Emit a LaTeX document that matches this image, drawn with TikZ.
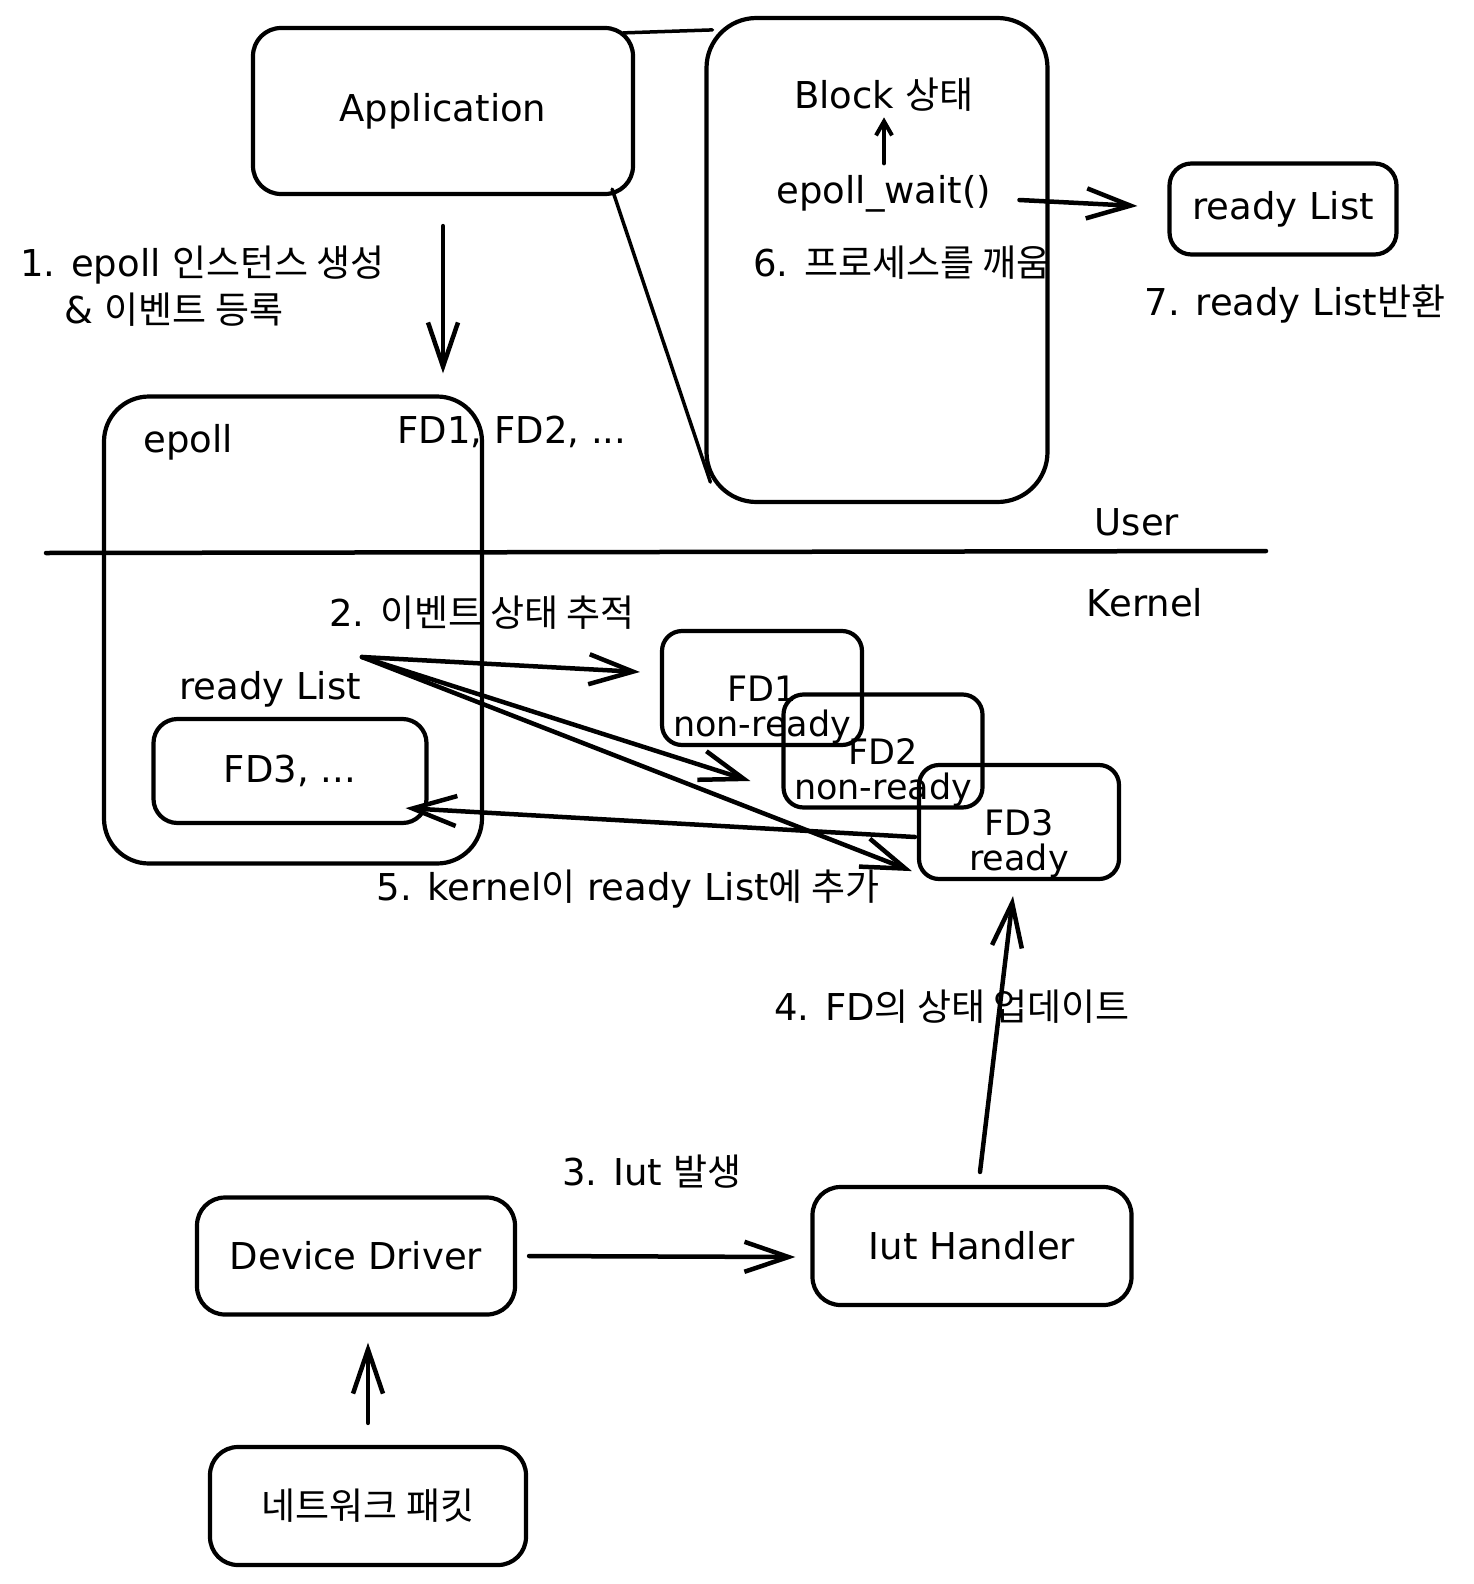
\documentclass[tikz,border=0pt]{standalone}
\usepackage{fontspec}
\setmainfont{DejaVu Sans}
\newfontfamily\krf{Noto Sans CJK KR}
\usetikzlibrary{arrows.meta,positioning,calc}

\begin{document}
\begin{tikzpicture}[
      x=1pt, y=-1pt, >={Straight Barb[length=44pt,width=30pt]},
      font=\fontsize{37}{42}\selectfont, line cap=round, line join=round,
      bx/.style={draw, line width=4.2pt, rounded corners=28pt, inner sep=0pt},
      fdb/.style={bx, rounded corners=20pt, align=center, text height=104pt,
                  font=\fontsize{35}{35}\selectfont},
      lab/.style={inner sep=0pt},
      arr/.style={->, line width=4.5pt},
    ]
    \useasboundingbox (0,0) rectangle (1473,1584);

    % user side
    \node[bx, minimum width=380pt, minimum height=166pt] (app) at (443,111) {Application};
    \node[bx, rounded corners=50pt, minimum width=341pt, minimum height=484pt] (blk) at (877,260) {};
    \node[lab] (wt) at (884,194) {epoll\_wait()};
    \node[lab, above=64pt of wt] (bst) {Block {\krf 상태}};
    \node[lab] (l6) at (902,263) {6. {\krf 프로세스를 깨움}};
    \node[bx, rounded corners=22pt, minimum width=227pt, minimum height=91pt] (rdyout) at (1283,209) {ready List};
    \node[lab, below=28pt of rdyout, xshift=12pt] (l7) {7. ready List{\krf 반환}};
    \node[lab, anchor=west, align=left, font=\fontsize{37}{47}\selectfont] (l1) at (20,286)
      {1. epoll {\krf 인스턴스 생성}\\\hspace*{44pt}\& {\krf 이벤트 등록}};

    % epoll
    \node[bx, rounded corners=45pt, minimum width=378pt, minimum height=467pt] (epl) at (293,630) {};
    \node[lab] (epllbl) at (188,442) {epoll};
    \node[lab] (fdlist) at (512,432) {FD1, FD2, ...};
    \node[bx, rounded corners=24pt, minimum width=273pt, minimum height=104pt] (rdyin) at (290,771) {FD3, ...};
    \node[lab, above=10pt of rdyin, xshift=-20pt] (rdylbl) {ready List};

    % user / kernel
    \draw[line width=4.5pt] (46,553) -- (1266,551);
    \node[lab] (usr) at (1137,522) {User};
    \node[lab] (krn) at (1145,603) {Kernel};

    % kernel side
    \node[lab] (l2) at (482,613) {2. {\krf 이벤트 상태 추적}};
    \coordinate (trk) at (362,657);
    \node[fdb, minimum width=200pt, minimum height=114pt] (fd1) at (762,688) {FD1\\non-ready};
    \node[fdb, minimum width=199pt, minimum height=113pt] (fd2) at (883,751) {FD2\\non-ready};
    \node[fdb, minimum width=200pt, minimum height=114pt] (fd3) at (1019,822) {FD3\\ready};
    \node[lab] (l5) at (628,889) {5. kernel{\krf 이} ready List{\krf 에 추가}};
    \node[lab] (l4) at (952,1007) {4. FD{\krf 의 상태 업데이트}};
    \node[lab] (l3) at (652,1172) {3. Iut {\krf 발생}};
    \node[bx, minimum width=318pt, minimum height=117pt] (dd) at (356,1256) {Device Driver};
    \node[bx, minimum width=319pt, minimum height=118pt] (ih) at (972,1246) {Iut Handler};
    \node[bx, minimum width=316pt, minimum height=118pt] (pkt) at (368,1506) {\krf 네트워크 패킷};

    % flows
    \draw[line width=3.5pt] ([xshift=-12pt,yshift=-7pt]app.north east) -- ([xshift=8pt,yshift=-14pt]blk.north west);
    \draw[line width=3.5pt] ([xshift=-23pt,yshift=7pt]app.south east) -- ([xshift=6pt,yshift=22pt]blk.south west);
    \draw[arr] ([yshift=-30pt]app.south) -- ($(app.south |- epl.north)+(0,-21)$);
    \draw[->, line width=4pt, >={Straight Barb[length=14pt,width=16pt]}, shorten <=12pt, shorten >=6pt] (wt) -- (bst);
    \draw[arr] ([xshift=28pt,yshift=-6pt]wt.east) -- ([xshift=-30pt,yshift=3pt]rdyout.west);
    \draw[arr] (trk) -- ([xshift=-20pt,yshift=16pt]fd1.west);
    \draw[arr] (trk) -- ([xshift=-31pt,yshift=-30pt]fd2.west);
    \draw[arr] (trk) -- ([xshift=-5pt,yshift=10pt]fd3.south west);
    \draw[arr] ([xshift=-2pt,yshift=-15pt]fd3.west) -- ([xshift=-23pt,yshift=17pt]rdyin.south east);
    \draw[arr] ([xshift=8pt,yshift=13pt]ih.north) -- ([xshift=-6pt,yshift=-15pt]fd3.south);
    \draw[arr] ([xshift=12pt]dd.east) -- ([xshift=-15pt,yshift=-11pt]ih.west);
    \draw[arr] ([yshift=22pt]pkt.north) -- ([xshift=12pt,yshift=-26pt]dd.south);
  \end{tikzpicture}
\end{document}
